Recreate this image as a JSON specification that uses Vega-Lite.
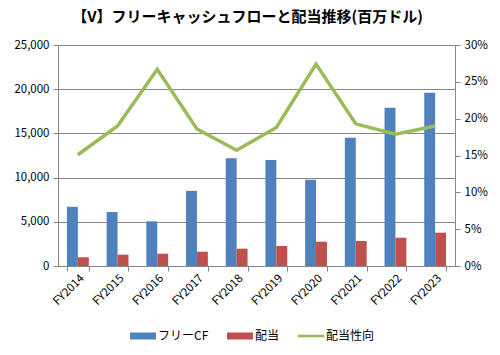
{
  "$schema": "https://vega.github.io/schema/vega-lite/v6.json",
  "width": 397,
  "height": 221,
  "autosize": {"type": "none"},
  "padding": {"left": 58, "top": 45, "right": 45, "bottom": 89},
  "background": "white",
  "config": {
    "font": "Noto Sans CJK JP",
    "view": {"stroke": null},
    "axis": {"labelFont": "Noto Sans CJK JP", "labelColor": "#000", "domainColor": "#868686", "tickColor": "#868686", "gridColor": "#868686", "labelFontSize": 11.5}
  },
  "title": {"text": "【V】フリーキャッシュフローと配当推移(百万ドル)", "font": "Noto Sans CJK JP", "fontSize": 15, "fontWeight": "bold", "color": "#000", "anchor": "middle", "frame": "group", "dx": -9, "offset": 14},
  "datasets": {
    "bars": [
      {"year": "FY2014", "series": "フリーCF", "value": 6700},
      {"year": "FY2014", "series": "配当", "value": 1000},
      {"year": "FY2015", "series": "フリーCF", "value": 6100},
      {"year": "FY2015", "series": "配当", "value": 1280},
      {"year": "FY2016", "series": "フリーCF", "value": 5050},
      {"year": "FY2016", "series": "配当", "value": 1390},
      {"year": "FY2017", "series": "フリーCF", "value": 8500},
      {"year": "FY2017", "series": "配当", "value": 1620},
      {"year": "FY2018", "series": "フリーCF", "value": 12200},
      {"year": "FY2018", "series": "配当", "value": 1960},
      {"year": "FY2019", "series": "フリーCF", "value": 12000},
      {"year": "FY2019", "series": "配当", "value": 2260},
      {"year": "FY2020", "series": "フリーCF", "value": 9750},
      {"year": "FY2020", "series": "配当", "value": 2750},
      {"year": "FY2021", "series": "フリーCF", "value": 14500},
      {"year": "FY2021", "series": "配当", "value": 2830},
      {"year": "FY2022", "series": "フリーCF", "value": 17900},
      {"year": "FY2022", "series": "配当", "value": 3200},
      {"year": "FY2023", "series": "フリーCF", "value": 19600},
      {"year": "FY2023", "series": "配当", "value": 3770}
    ],
    "ratio": [
      {"year": "FY2014", "series": "配当性向", "ratio": 0.151},
      {"year": "FY2015", "series": "配当性向", "ratio": 0.19},
      {"year": "FY2016", "series": "配当性向", "ratio": 0.267},
      {"year": "FY2017", "series": "配当性向", "ratio": 0.186},
      {"year": "FY2018", "series": "配当性向", "ratio": 0.157},
      {"year": "FY2019", "series": "配当性向", "ratio": 0.188},
      {"year": "FY2020", "series": "配当性向", "ratio": 0.274},
      {"year": "FY2021", "series": "配当性向", "ratio": 0.193},
      {"year": "FY2022", "series": "配当性向", "ratio": 0.179},
      {"year": "FY2023", "series": "配当性向", "ratio": 0.19}
    ]
  },
  "layer": [
    {
      "data": {"name": "bars"},
      "mark": {"type": "bar"},
      "encoding": {
        "x": {
          "field": "year", "type": "nominal",
          "scale": {"paddingInner": 0.45, "paddingOuter": 0.225},
          "axis": {"title": null, "labelAngle": -45, "labelAlign": "right", "labelBaseline": "top", "tickBand": "extent", "tickSize": 5, "labelPadding": 1, "grid": false}
        },
        "xOffset": {"field": "series", "type": "nominal", "sort": ["フリーCF", "配当"], "scale": {"paddingInner": 0, "paddingOuter": 0}},
        "y": {
          "field": "value", "type": "quantitative",
          "scale": {"domain": [0, 25000]},
          "axis": {"title": null, "values": [0, 5000, 10000, 15000, 20000, 25000], "format": ",.0f", "grid": true, "tickSize": 5, "labelPadding": 4}
        },
        "color": {
          "field": "series", "type": "nominal",
          "scale": {"domain": ["フリーCF", "配当", "配当性向"], "range": ["#4F81BD", "#C0504D", "#9BBB59"]},
          "legend": {
            "orient": "none", "legendX": 72, "legendY": 278, "direction": "horizontal", "title": null,
            "symbolSize": 676, "labelFontSize": 12, "labelFont": "Noto Sans CJK JP", "labelColor": "#000", "columnPadding": 18, "labelOffset": 2,
            "encode": {"symbols": {"update": {
              "shape": {"signal": "datum.value === '配当性向' ? 'M-1,-0.1H1V0.1H-1Z' : 'M-1,-0.27H1V0.27H-1Z'"},
              "fill": {"scale": "color", "field": "value"},
              "strokeWidth": {"value": 0},
              "opacity": {"value": 1}
            }}}
          }
        }
      }
    },
    {
      "data": {"name": "ratio"},
      "mark": {"type": "line", "strokeWidth": 3.5},
      "encoding": {
        "x": {"field": "year", "type": "nominal"},
        "y": {
          "field": "ratio", "type": "quantitative",
          "scale": {"domain": [0, 0.3]},
          "axis": {"title": null, "orient": "right", "values": [0, 0.05, 0.1, 0.15, 0.2, 0.25, 0.3], "format": ".0%", "grid": false, "tickSize": 5, "labelPadding": 4}
        },
        "color": {"field": "series", "type": "nominal"}
      }
    }
  ],
  "resolve": {"scale": {"y": "independent"}}
}
